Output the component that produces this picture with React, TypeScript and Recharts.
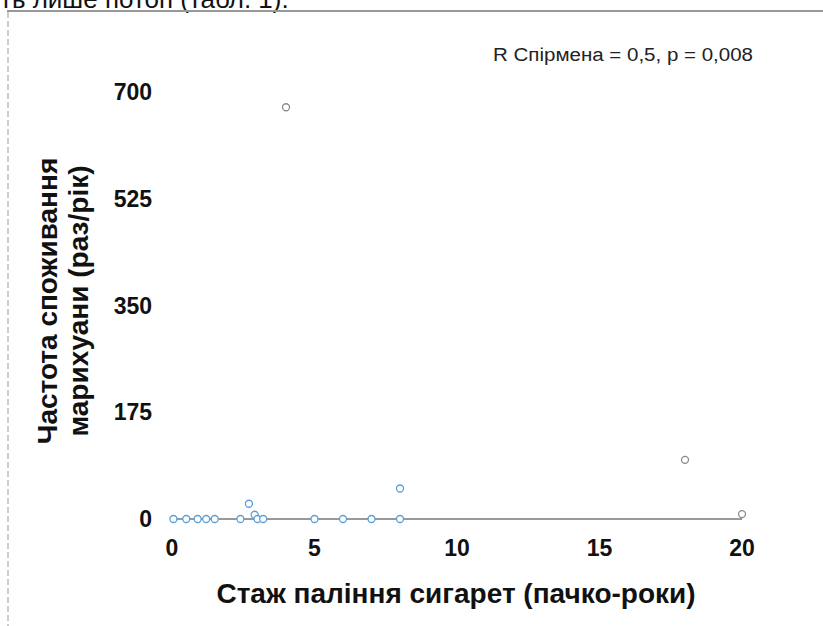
import React from 'react';
import { ScatterChart, Scatter, XAxis, YAxis } from 'recharts';

// Стаж паління (пачко-роки) vs частота споживання марихуани
const blueSmoking = [0.05, 0.5, 0.9, 1.2, 1.5, 2.4, 2.7, 2.9, 3.0, 3.2, 5, 6, 7, 8, 8];
const blueFreq = [0, 0, 0, 0, 0, 0, 25, 7, 0, 0, 0, 0, 0, 0, 50];
const graySmoking = [4, 18, 20];
const grayFreq = [675, 97, 8];

const xTicks = [0, 5, 10, 15, 20];
const yTicks = [0, 175, 350, 525, 700];

const blueData = blueSmoking.map((x, i) => ({ x, y: blueFreq[i] }));
const grayData = graySmoking.map((x, i) => ({ x, y: grayFreq[i] }));

const FONT = '"Liberation Sans", Arial, Helvetica, sans-serif';

const ring = (color: string) => (props: any) => (
  <circle cx={props.cx} cy={props.cy} r={3.5} fill="#fff" stroke={color} strokeWidth={1.3} />
);

export default function App() {
  return (
    <div style={{ position: 'absolute', left: 0, top: 0, width: 823, height: 626, background: '#fff', overflow: 'hidden', fontFamily: FONT }}>
      {/* cut-off line of body text above the figure */}
      <div style={{ position: 'absolute', left: 0, top: -14, fontSize: 26, lineHeight: '26px', color: '#111', whiteSpace: 'nowrap' }}>
        ть лише потоп (табл. 1).
      </div>
      <svg width={823} height={626} style={{ position: 'absolute', left: 0, top: 0 }}>
        <line x1={7} y1={11} x2={823} y2={11} stroke="#999" strokeWidth={2} />
        <line x1={8} y1={12} x2={8} y2={626} stroke="#999" strokeWidth={1} strokeDasharray="6 3" />
      </svg>
      <div style={{ position: 'absolute', left: 0, top: 0 }}>
        <ScatterChart width={823} height={626} margin={{ top: 92, right: 81, bottom: 67, left: 112 }}>
          <XAxis
            type="number"
            dataKey="x"
            domain={[0, 20]}
            ticks={xTicks}
            height={40}
            tickSize={0}
            tickMargin={21}
            axisLine={{ stroke: '#777', strokeWidth: 1.5 }}
            tick={{ fill: '#111', fontSize: 23, fontWeight: 700, fontFamily: FONT }}
          />
          <YAxis
            type="number"
            dataKey="y"
            domain={[0, 700]}
            ticks={yTicks}
            width={60}
            tickSize={0}
            tickMargin={20}
            axisLine={false}
            tick={{ fill: '#111', fontSize: 23, fontWeight: 700, fontFamily: FONT }}
          />
          <Scatter data={blueData} shape={ring('#5b9fd8')} isAnimationActive={false} />
          <Scatter data={grayData} shape={ring('#8a8a8a')} isAnimationActive={false} />
        </ScatterChart>
      </div>
      <svg width={823} height={626} style={{ position: 'absolute', left: 0, top: 0, pointerEvents: 'none' }}>
        <text x={493} y={61} fontSize={18} fill="#222" fontFamily={FONT} textLength={260} lengthAdjust="spacingAndGlyphs">
          R Спірмена = 0,5, p = 0,008
        </text>
        <text x={456} y={603} fontSize={28} fontWeight={700} fill="#111" textAnchor="middle" fontFamily={FONT}>
          Стаж паління сигарет (пачко-роки)
        </text>
        <g transform="translate(0,301) rotate(-90)" fontFamily={FONT} fontSize={28} fontWeight={700} fill="#111" textAnchor="middle">
          <text x={0} y={57}>Частота споживання</text>
          <text x={0} y={88}>марихуани (раз/рік)</text>
        </g>
      </svg>
    </div>
  );
}
